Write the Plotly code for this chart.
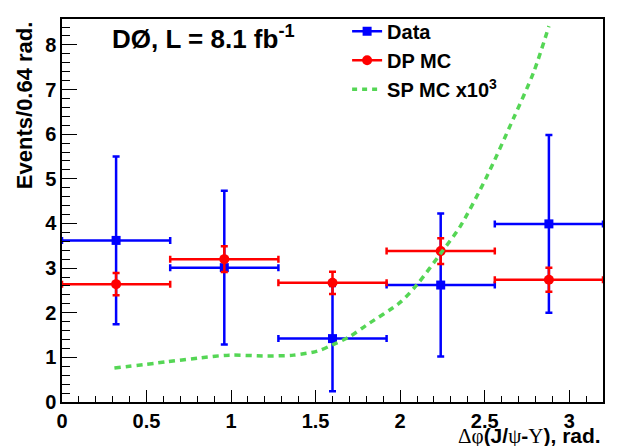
import plotly.graph_objects as go

# ---- data ----
bin_centers = [0.32, 0.96, 1.60, 2.24, 2.88]
bin_half_width = [0.32, 0.32, 0.32, 0.32, 0.32]

data_y = [3.62, 3.01, 1.42, 2.62, 3.99]
data_err = [1.88, 1.72, 1.18, 1.60, 1.99]

dp_y = [2.64, 3.20, 2.67, 3.38, 2.74]
dp_err = [0.25, 0.29, 0.25, 0.29, 0.27]

sp_x = [0.31, 0.62, 0.82, 0.99, 1.21, 1.37, 1.51, 1.60, 1.70, 1.80, 2.00, 2.10,
        2.24, 2.355, 2.51, 2.67, 2.79, 2.88]
sp_y = [0.76, 0.90, 0.99, 1.05, 1.03, 1.05, 1.14, 1.28, 1.46, 1.72, 2.23, 2.63,
        3.33, 3.93, 5.03, 6.35, 7.39, 8.42]

x_range = [0, 3.2]
y_range = [0, 8.58]

BLUE = "#0000ff"
RED = "#ff0000"
GREEN = "#55d655"
FONT = "Liberation Sans, Arial, Helvetica, sans-serif"
SERIF = "Liberation Serif"

fig = go.Figure()

# Data
fig.add_trace(go.Scatter(
    x=bin_centers, y=data_y, mode="markers", showlegend=False,
    marker=dict(symbol="square", size=9, color=BLUE),
    error_x=dict(type="data", array=bin_half_width, color=BLUE, thickness=2.5, width=3.5),
    error_y=dict(type="data", array=data_err, color=BLUE, thickness=2.5, width=3.5),
))
# DP MC
fig.add_trace(go.Scatter(
    x=bin_centers, y=dp_y, mode="markers", showlegend=False,
    marker=dict(symbol="circle", size=10, color=RED),
    error_x=dict(type="data", array=bin_half_width, color=RED, thickness=2.5, width=3.5),
    error_y=dict(type="data", array=dp_err, color=RED, thickness=2.5, width=3.5),
))
# SP MC x10^3
fig.add_trace(go.Scatter(
    x=sp_x, y=sp_y, mode="lines", showlegend=False,
    line=dict(color=GREEN, width=3.5, dash="6px,5px", shape="spline", smoothing=0.8),
))

# legend entries
fig.add_trace(go.Scatter(x=[None], y=[None], mode="lines+markers", name="Data",
                         line=dict(color=BLUE, width=2.5),
                         marker=dict(symbol="square", size=9, color=BLUE)))
fig.add_trace(go.Scatter(x=[None], y=[None], mode="lines+markers", name="DP MC",
                         line=dict(color=RED, width=2.5),
                         marker=dict(symbol="circle", size=10, color=RED)))
fig.add_trace(go.Scatter(x=[None], y=[None], mode="lines", name="SP MC x10<sup>3</sup>",
                         line=dict(color=GREEN, width=3.5, dash="5px,5px")))

axis_common = dict(
    showline=True, mirror=True, linecolor="black", linewidth=1.5,
    showgrid=False, zeroline=False,
    ticks="inside", tickcolor="black", tickwidth=1,
    tickfont=dict(family=FONT, size=20, color="black", weight="bold"),
)

fig.update_xaxes(range=x_range, tickmode="linear", tick0=0, dtick=0.5, ticklen=12,
                 minor=dict(ticks="inside", dtick=0.1, ticklen=6, tickcolor="black", tickwidth=1),
                 **axis_common)
fig.update_yaxes(range=y_range, tickmode="linear", tick0=0, dtick=1, ticklen=15,
                 minor=dict(ticks="inside", dtick=0.2, ticklen=8, tickcolor="black", tickwidth=1),
                 **axis_common)

fig.update_layout(
    width=623, height=446,
    margin=dict(l=62, r=20, t=12, b=44),
    paper_bgcolor="white", plot_bgcolor="white",
    font=dict(family=FONT, color="black"),
    legend=dict(x=0.527, y=1.019, xanchor="left", yanchor="top",
                bgcolor="rgba(0,0,0,0)", borderwidth=0,
                font=dict(family=FONT, size=20, color="black", weight="bold"),
                itemwidth=30, tracegroupgap=0),
    annotations=[
        dict(text="DØ, L = 8.1 fb<sup>-1</sup>", xref="paper", yref="paper",
             x=0.088, y=0.951, xanchor="left", yanchor="middle", showarrow=False,
             font=dict(family=FONT, size=26, color="black", weight="bold")),
        dict(text="Events/0.64 rad.", xref="paper", yref="paper",
             x=-0.07, y=1.0, xanchor="center", yanchor="top", textangle=-90,
             showarrow=False,
             font=dict(family=FONT, size=22, color="black", weight="bold")),
        dict(text=(f"<span style='font-family:{SERIF}'>Δφ</span>"
                   f"<b>(J/</b><span style='font-family:{SERIF}'>ψ</span><b>-</b>"
                   f"<span style='font-family:{SERIF}'>Υ</span><b>), rad.</b>"),
             xref="paper", yref="paper", x=1.0, y=-0.088, xanchor="right", yanchor="middle",
             showarrow=False,
             font=dict(family=FONT, size=21, color="black")),
    ],
)

fig.write_html("out.html", config={"displayModeBar": False},
               post_script="document.body.style.margin='0px';document.body.style.overflow='hidden';")
